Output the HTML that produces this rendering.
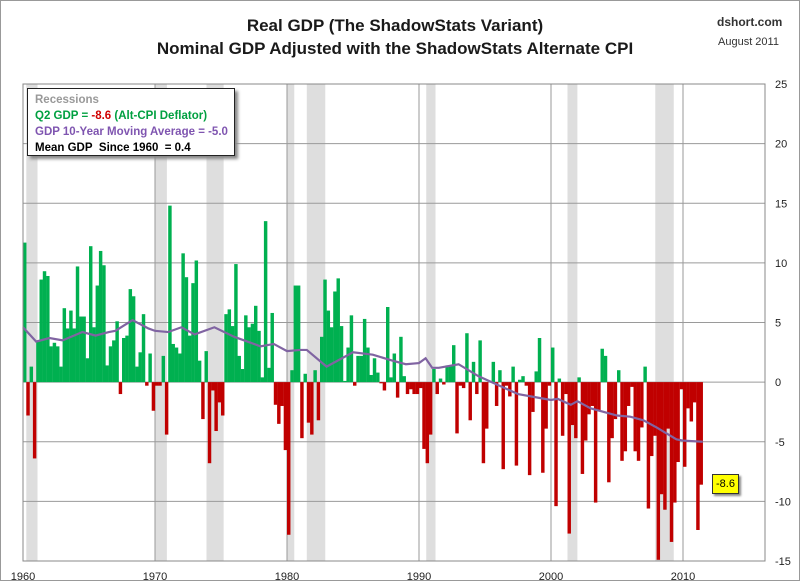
<!DOCTYPE html>
<html><head><meta charset="utf-8">
<style>
body{margin:0;width:800px;height:581px;background:#fff;overflow:hidden;font-family:"Liberation Sans",sans-serif;}
#frame{position:absolute;left:0;top:0;width:798px;height:579px;border:1px solid #999;}
.t{position:absolute;white-space:nowrap;}
</style></head><body>
<div id="frame"></div>
<div class="t" style="left:0;width:790px;text-align:center;top:14px;font-size:17px;font-weight:bold;color:#1a1a1a;line-height:23px;">Real GDP (The ShadowStats Variant)<br>Nominal GDP Adjusted with the ShadowStats Alternate CPI</div>
<div class="t" style="left:717px;top:15px;font-size:12px;font-weight:bold;color:#333;">dshort.com</div>
<div class="t" style="left:718px;top:36px;font-size:11px;color:#333;">August 2011</div>
<svg id="chart" width="800" height="581" style="position:absolute;left:0;top:0"></svg>
<div class="t" style="left:27px;top:88px;width:208px;height:68px;border:1px solid #222;background:#fff;box-shadow:3px 3px 3px #888;font-size:11.5px;font-weight:bold;line-height:16px;padding:3px 0 0 7px;box-sizing:border-box;">
<div style="color:#999">Recessions</div>
<div style="color:#00a040">Q2 GDP = <span style="color:#d00000">-8.6</span> (Alt-CPI Deflator)</div>
<div style="color:#7f55b0">GDP 10-Year Moving Average = -5.0</div>
<div style="color:#000">Mean GDP&nbsp; Since 1960&nbsp; = 0.4</div>
</div>
<div class="t" style="left:712px;top:474px;width:25px;height:18px;background:#ffff00;border:1px solid #333;box-shadow:2px 2px 2px #888;font-size:11px;line-height:18px;text-align:center;">-8.6</div>
<script>
const gdpValues=[11.7,-2.8,1.3,-6.4,3.5,8.6,9.3,8.9,3.0,3.3,3.0,1.3,6.2,4.5,6.0,4.5,9.7,5.5,5.5,2.0,11.4,4.6,8.1,11.0,9.8,1.4,3.0,3.5,5.1,-1.0,3.7,3.9,7.8,7.2,1.3,2.5,5.7,-0.3,2.4,
-2.4,-0.3,-0.3,2.2,-4.4,14.8,3.2,2.9,2.4,10.8,8.8,3.9,8.3,10.2,1.8,-3.1,2.6,-6.8,-0.7,-4.1,-1.7,-2.8,5.7,6.1,4.7,9.9,2.2,1.1,5.6,4.6,4.9,6.4,4.3,0.4,13.5,1.2,5.8,-1.9,-3.5,-2.0,-5.7,-12.8,1.0,8.1,
8.1,-4.7,0.7,-3.4,-4.4,1.0,-3.2,3.8,8.6,6.0,4.6,7.6,8.7,4.7,0.1,2.9,5.6,-0.3,2.2,2.2,5.3,2.9,0.6,2.0,0.8,-0.1,-0.7,6.3,0.4,2.4,-1.3,3.8,0.5,-1.0,-0.6,-1.0,-1.0,-0.5,-5.6,-6.8,-4.4,1.1,
-1.0,0.3,-0.2,1.4,1.4,3.1,-4.3,-0.3,-0.5,4.1,-3.2,1.7,-1.0,3.5,-6.8,-3.9,0,1.7,-2.0,1.0,-7.3,-0.3,-1.2,1.3,-7.0,0.2,0.5,-0.3,-7.8,-2.5,0.9,3.7,-7.6,-3.9,-0.3,2.9,-10.4,0.3,-4.5,-1.0,-12.7,-3.6,-4.7,0.4,
-7.7,-4.9,-2.7,-2.0,-10.1,-2.4,2.8,2.2,-8.4,-4.7,-3.1,1.0,-6.6,-5.8,-2.0,-0.4,-5.8,-6.6,-3.8,1.3,-10.6,-6.2,-4.5,-14.9,-9.4,-10.7,-3.9,-13.4,-10.1,-6.7,-0.6,-7.1,-2.2,-3.3,-1.7,-12.4,-8.6];
const startYear=1960;
const maYears=[1960,1961,1962,1963,1964.5,1965.5,1966.5,1967,1968.3,1969.5,1970,1971,1972,1973,1974.5,1976,1978,1979,1980,1981,1981.5,1983,1985,1986.5,1988,1989,1990,1990.5,1991,1991.5,1993,1994.5,1995.5,1996.5,1997.5,1999,2000,2000.5,2001.5,2002,2003,2004,2005,2006,2007,2008,2009.5,2010,2011.5];
const maValues=[4.6,3.4,3.7,3.5,4.2,3.9,4.2,4.3,5.2,4.5,4.3,4.2,4.6,4.0,4.6,3.8,3.0,3.2,2.6,2.7,2.7,1.3,2.5,2.3,1.8,1.5,1.6,2.0,1.2,1.2,1.5,0.5,0,-0.5,-1.0,-1.3,-1.5,-1.4,-1.9,-1.6,-2.2,-2.5,-2.8,-2.9,-3.2,-3.8,-4.8,-4.9,-5.0];
const recStart=[1960.25,1970.0,1973.9,1980.0,1981.5,1990.55,2001.25,2007.9];
const recEnd=[1961.1,1970.9,1975.2,1980.55,1982.9,1991.25,2002.0,2009.3];
const yTicks=[25,20,15,10,5,0,-5,-10,-15];
const xTicks=[1960,1970,1980,1990,2000,2010];

const L=23,R=765,T=84,B=561;
const x=yr=>L+(yr-1960)*13.2;
const y=v=>T+(25-v)*(B-T)/40;
const svg=document.getElementById('chart');
const NS='http://www.w3.org/2000/svg';
function mk(tag,attrs){const e=document.createElementNS(NS,tag);for(const k in attrs)e.setAttribute(k,attrs[k]);svg.appendChild(e);return e;}

recStart.forEach((s,i)=>{
  const r=mk('rect',{x:x(s),y:T,width:x(recEnd[i])-x(s),height:B-T,fill:'#dedede'});
  
  
});
yTicks.forEach(v=>{
  const l=mk('line',{x1:L,x2:R,y1:y(v),y2:y(v),stroke:'#9a9a9a','stroke-width':1});
  
  
  const t=mk('text',{x:R+10,y:y(v)+4,'font-size':11,fill:'#222','font-family':'Liberation Sans, sans-serif'});
  t.textContent=v;
  
  
});
xTicks.forEach(yr=>{
  const l=mk('line',{x1:x(yr),x2:x(yr),y1:T,y2:B,stroke:'#9a9a9a','stroke-width':1});
  
  
  const t=mk('text',{x:x(yr),y:B+19,'font-size':11,fill:'#222','text-anchor':'middle','font-family':'Liberation Sans, sans-serif'});
  t.textContent=yr;
  
  
});
const bw=13.2/4;
gdpValues.forEach((v,i)=>{
  const x0=x(startYear+i/4);
  const r=mk('rect',{x:x0,y:Math.min(y(v),y(0)),width:bw+0.15,height:Math.abs(y(v)-y(0)),fill:v>=0?'#00b050':'#c00000'});
  
  
});
const pts=maYears.map((yr,i)=>x(yr)+','+y(maValues[i])).join(' ');
const pl=mk('polyline',{points:pts,fill:'none',stroke:'#8064a2','stroke-width':2.2});


const bd=mk('rect',{x:L,y:T,width:R-L,height:B-T,fill:'none',stroke:'#888','stroke-width':1});


</script>
</body></html>
